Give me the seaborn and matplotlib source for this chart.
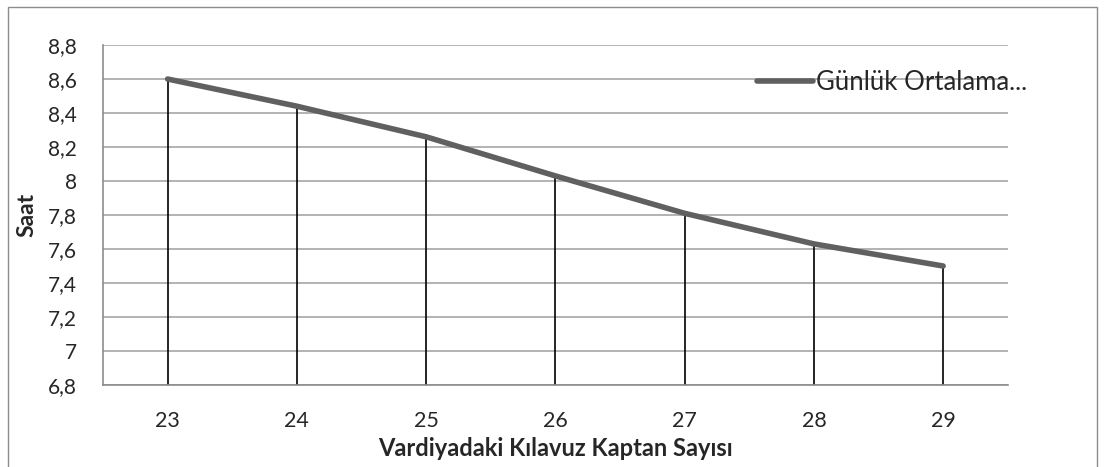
import numpy as np
import pandas as pd
import seaborn as sns
from matplotlib import pyplot as plt
from matplotlib.patches import Rectangle
from matplotlib.ticker import FuncFormatter, MultipleLocator

kaptan_sayisi = [23, 24, 25, 26, 27, 28, 29]
gunluk_ortalama = [8.60, 8.44, 8.26, 8.03, 7.81, 7.63, 7.50]
seri_adi = "Günlük Ortalama..."

sns.set_style("white")
plt.rcParams['font.family'] = ['Lato', 'DejaVu Sans']

df = pd.DataFrame({"Kaptan": kaptan_sayisi, "Saat": gunluk_ortalama})

fig = plt.figure(figsize=(11.05, 4.67), dpi=100)
ax = fig.add_axes([0.0932, 0.1756, 0.8188, 0.728])

# drop lines
ax.vlines(df["Kaptan"], 6.8, df["Saat"], colors="black", linewidth=1.2, zorder=2)
sns.lineplot(data=df, x="Kaptan", y="Saat", ax=ax, color="#606060",
             linewidth=4, label=seri_adi, zorder=3)

ax.set_xlim(22.5, 29.5)
ax.set_ylim(6.8, 8.8)
ax.set_xticks(kaptan_sayisi)
ax.yaxis.set_major_locator(MultipleLocator(0.2))
ax.yaxis.set_major_formatter(FuncFormatter(lambda v, p: f"{round(v, 1):g}".replace(".", ",")))
ax.grid(axis="y", color="#a6a6a6", linewidth=1.2)
ax.set_axisbelow(True)

for s in ["top", "right"]:
    ax.spines[s].set_visible(False)
for s in ["left", "bottom"]:
    ax.spines[s].set_color("#8c8c8c")
    ax.spines[s].set_linewidth(1.2)

ax.tick_params(axis="y", length=6, color="#8c8c8c", width=1.2, labelsize=15, pad=13)
ax.tick_params(axis="x", length=0, labelsize=15.5, pad=18.5)

ax.set_xlabel("Vardiyadaki Kılavuz Kaptan Sayısı", fontsize=17, fontweight="bold")
ax.xaxis.set_label_coords(0.5, -0.152)
ax.set_ylabel("Saat", fontsize=16.5, fontweight="bold")
ax.yaxis.set_label_coords(-0.073, 0.5)

leg = ax.legend(loc="center left", bbox_to_anchor=(0.7227, 0.891), frameon=False,
                fontsize=18.5, handlelength=2.2, handletextpad=0.1, borderaxespad=0,
                borderpad=0)

fig.patches.append(Rectangle((8 / 1105, -0.1), 1089 / 1105, 1.1 - 7 / 467, transform=fig.transFigure,
                             fill=False, edgecolor="#8c8c8c", linewidth=1))

plt.savefig("out.png", dpi=100)
